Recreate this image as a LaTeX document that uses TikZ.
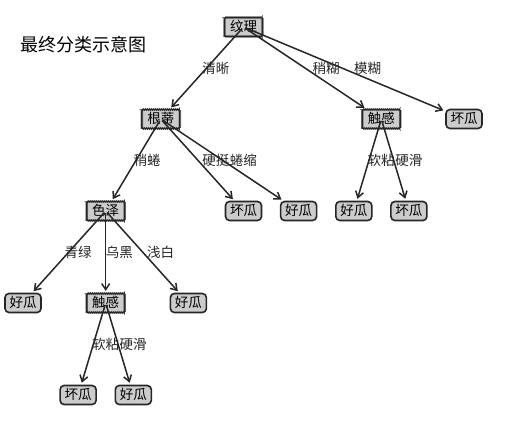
\documentclass[tikz,border=0pt]{standalone}
\usepackage{fontspec}
\setmainfont{Noto Sans CJK SC}
\usetikzlibrary{arrows.meta,decorations.pathmorphing}
\tikzset{
  base/.style={font=\fontsize{13.5}{14}\selectfont, text height=10pt, text depth=2pt,
    inner sep=0pt, minimum height=19pt, fill=gray!40, draw=black!85},
  decision/.style={base, minimum width=38pt, line width=1.2pt, decorate,
    decoration={zigzag, segment length=2pt, amplitude=0.6pt}},
  leaf/.style={base, minimum width=36pt, line width=1.6pt, rounded corners=4pt},
  edge/.style={draw=black!85, line width=1.5pt, -{Straight Barb[length=6pt,width=8pt]},
    shorten >=2pt, shorten <=2pt},
  elabel/.style={font=\fontsize{13.5}{14}\selectfont, anchor=base west, inner sep=0pt, text=black!85},
}
\begin{document}
\begin{tikzpicture}[x=1pt,y=-1pt]
\useasboundingbox (0,0) rectangle (514,426);
\node[anchor=west, inner sep=0pt, font=\fontsize{18}{20}\selectfont] (title) at (20,45) {最终分类示意图};
% decision nodes
\node[decision] (d0) at (243.5,27) {纹理};
\node[decision] (d1) at (160.8,119) {根蒂};
\node[decision] (d2) at (105.7,211) {色泽};
\node[decision] (d3) at (105.7,303) {触感};
\node[decision] (d4) at (381.3,119) {触感};
% leaves
\node[leaf] (l0) at (23.0,303) {好瓜};
\node[leaf] (l1) at (78.1,395) {坏瓜};
\node[leaf] (l2) at (133.3,395) {好瓜};
\node[leaf] (l3) at (188.4,303) {好瓜};
\node[leaf] (l4) at (243.5,211) {坏瓜};
\node[leaf] (l5) at (298.6,211) {好瓜};
\node[leaf] (l6) at (353.8,211) {好瓜};
\node[leaf] (l7) at (408.9,211) {坏瓜};
\node[leaf] (l8) at (464.0,119) {坏瓜};
% edges
\draw[edge] (d0.center) -- (d1);
\draw[edge] (d0.center) -- (d4);
\draw[edge] (d0.center) -- (l8);
\draw[edge] (d1.center) -- (d2);
\draw[edge] (d1.center) -- (l4);
\draw[edge] (d1.center) -- (l5);
\draw[edge] (d2.center) -- (l0);
\draw[edge] (d2.center) -- (d3);
\draw[edge] (d2.center) -- (l3);
\draw[edge] (d3.center) -- (l1);
\draw[edge] (d3.center) -- (l2);
\draw[edge] (d4.center) -- (l6);
\draw[edge] (d4.center) -- (l7);
% edge labels (at midpoints)
\node[elabel] (t1) at (202.2,73) {清晰};
\node[elabel] (t2) at (312.4,73) {稍糊};
\node[elabel] (t3) at (353.8,73) {模糊};
\node[elabel] (t4) at (133.3,165) {稍蜷};
\node[elabel] (t5) at (202.2,165) {硬挺};
\node[elabel] (t6) at (229.7,165) {蜷缩};
\node[elabel] (t7) at (64.4,257) {青绿};
\node[elabel] (t8) at (105.7,257) {乌黑};
\node[elabel] (t9) at (147.0,257) {浅白};
\node[elabel] (t10) at (91.9,349) {软粘};
\node[elabel] (t11) at (119.5,349) {硬滑};
\node[elabel] (t12) at (367.5,165) {软粘};
\node[elabel] (t13) at (395.1,165) {硬滑};
\end{tikzpicture}
\end{document}
